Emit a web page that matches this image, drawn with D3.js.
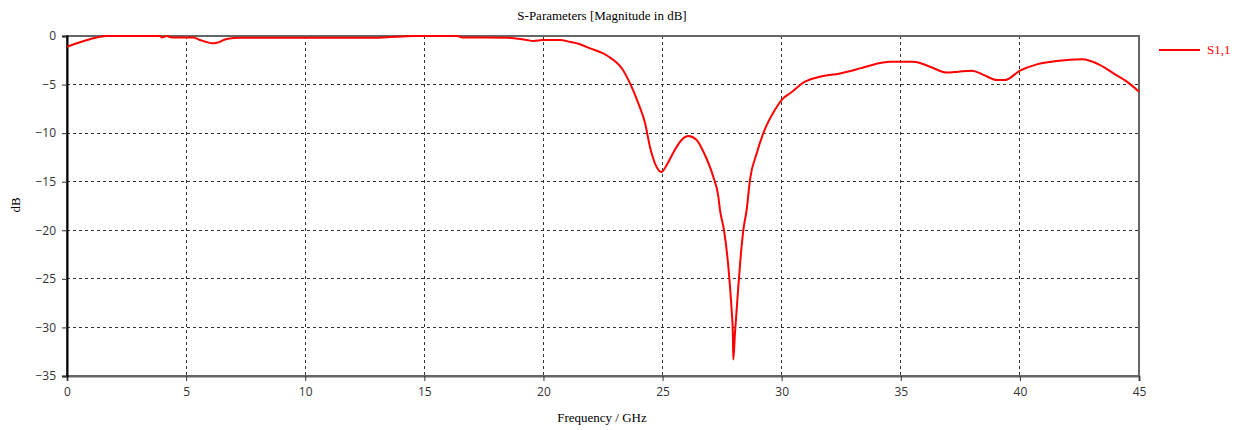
<!DOCTYPE html>
<html>
<head>
<meta charset="utf-8">
<style>
  body { margin: 0; background: #fff; }
  .serif { font-family: "Liberation Serif", "Times New Roman", serif; }
  .tick text { font-family: "Open Sans", "Noto Sans", sans-serif; font-size: 12px; fill: #333; }
</style>
</head>
<body>
<svg width="1238" height="430"></svg>
<script src="https://d3js.org/d3.v7.min.js"></script>
<script>

// S1,1 magnitude
var freq = [0, 0.55, 1.1, 1.67, 2.5, 3.9, 3.97, 4.19, 4.4, 5.3, 5.58, 6.14, 6.42, 6.7, 7.26,
  10, 13.1, 14.6, 16.4, 16.6, 18.46, 19.3, 19.57, 19.98, 20.7, 21.1, 21.5, 21.96, 22.7,
  23.28, 23.64, 23.98, 24.27, 24.47, 24.68, 24.96, 25.17, 25.52, 25.8, 26.08, 26.43,
  26.78, 27.13, 27.34, 27.41, 27.58, 27.72, 27.83, 27.9, 27.95, 27.97, 28.04, 28.11,
  28.18, 28.28, 28.39, 28.53, 28.67, 28.95, 29.23, 29.72, 30.07, 30.35, 30.98, 31.6,
  32.45, 33.29, 33.92, 34.55, 35.53, 36.23, 36.93, 37.42, 37.98, 38.47, 39.03, 39.38,
  40.0, 40.71, 41.55, 42.6, 43.37, 43.93, 44.49, 45];
var s11 = [-1.1, -0.65, -0.24, 0, 0, 0, -0.15, 0, -0.15, -0.15, -0.41, -0.75, -0.6, -0.3, -0.17,
  -0.17, -0.17, 0, 0, -0.15, -0.17, -0.41, -0.51, -0.41, -0.41, -0.6, -0.82, -1.27, -2.06,
  -3.3, -4.9, -6.9, -9.0, -11.4, -13.1, -14.0, -13.3, -11.7, -10.7, -10.3, -10.7,
  -12.25, -14.5, -16.5, -17.9, -20.0, -22.7, -25.8, -28.2, -30.6, -33.3, -30.6, -28.2,
  -25.8, -22.7, -20.0, -17.9, -14.8, -12.1, -10.0, -7.6, -6.4, -5.9, -4.7, -4.2,
  -3.85, -3.33, -2.9, -2.64, -2.64, -3.16, -3.77, -3.67, -3.57, -4.0, -4.53, -4.53,
  -3.57, -2.92, -2.57, -2.4, -2.99, -3.85, -4.7, -5.73];

var xTicks = [0, 5, 10, 15, 20, 25, 30, 35, 40, 45];
var yTicks = [0, -5, -10, -15, -20, -25, -30, -35];

var svg = d3.select("svg");
var plotL = 67, plotR = 1139, plotT = 36, plotB = 376;

var x = d3.scaleLinear().domain([0, 45]).range([plotL, plotR]);
var y = d3.scaleLinear().domain([-35, 0]).range([plotB, plotT]);

// grid
var grid = svg.append("g")
    .attr("stroke", "#333")
    .attr("stroke-width", 1)
    .attr("stroke-dasharray", "3,3")
    .attr("shape-rendering", "crispEdges");
grid.selectAll(".gx")
  .data(xTicks.filter(function(d) { return d > 0 && d < 45; }))
  .enter().append("line")
    .attr("x1", function(d) { return x(d); })
    .attr("x2", function(d) { return x(d); })
    .attr("y1", plotT).attr("y2", plotB);
grid.selectAll(".gy")
  .data(yTicks.filter(function(d) { return d < 0 && d > -35; }))
  .enter().append("line")
    .attr("y1", function(d) { return y(d); })
    .attr("y2", function(d) { return y(d); })
    .attr("x1", plotL).attr("x2", plotR);

// frame
svg.append("rect")
    .attr("x", plotL).attr("y", plotT)
    .attr("width", plotR - plotL).attr("height", plotB - plotT)
    .attr("fill", "none")
    .attr("stroke", "#666")
    .attr("stroke-width", 2)
    .attr("shape-rendering", "crispEdges");

// axes
var xAxis = svg.append("g")
    .attr("transform", "translate(0," + plotB + ")")
    .call(d3.axisBottom(x).tickValues(xTicks).tickSize(5).tickPadding(6));
xAxis.select(".domain").attr("stroke", "#666").attr("stroke-width", 2);
xAxis.selectAll(".tick line").attr("stroke", "#333");

var yAxis = svg.append("g")
    .attr("transform", "translate(" + plotL + ",0)")
    .call(d3.axisLeft(y).tickValues(yTicks).tickSize(5).tickPadding(6));
yAxis.select(".domain").attr("stroke", "#000").attr("stroke-width", 2);
yAxis.selectAll(".tick line").attr("stroke", "#333");

// curve
var line = d3.line()
    .x(function(d, i) { return x(freq[i]); })
    .y(function(d) { return y(d); })
    .curve(d3.curveMonotoneX);

svg.append("path")
    .datum(s11)
    .attr("fill", "none")
    .attr("stroke", "#ff0000")
    .attr("stroke-width", 2)
    .attr("d", line);

// labels
svg.append("text")
    .attr("class", "serif")
    .attr("x", 602).attr("y", 20)
    .attr("text-anchor", "middle")
    .attr("font-size", 13)
    .attr("fill", "#000")
    .text("S-Parameters [Magnitude in dB]");

svg.append("text")
    .attr("class", "serif")
    .attr("x", 602).attr("y", 422)
    .attr("text-anchor", "middle")
    .attr("font-size", 13)
    .attr("fill", "#000")
    .text("Frequency / GHz");

svg.append("text")
    .attr("class", "serif")
    .attr("transform", "translate(20,205) rotate(-90)")
    .attr("text-anchor", "middle")
    .attr("font-size", 13)
    .attr("fill", "#000")
    .text("dB");

// legend
svg.append("line")
    .attr("x1", 1159).attr("x2", 1200)
    .attr("y1", 50).attr("y2", 50)
    .attr("stroke", "#ff0000")
    .attr("stroke-width", 2);
svg.append("text")
    .attr("class", "serif")
    .attr("x", 1207).attr("y", 54)
    .attr("font-size", 13)
    .attr("fill", "#ff0000")
    .text("S1,1");

</script>
</body>
</html>
